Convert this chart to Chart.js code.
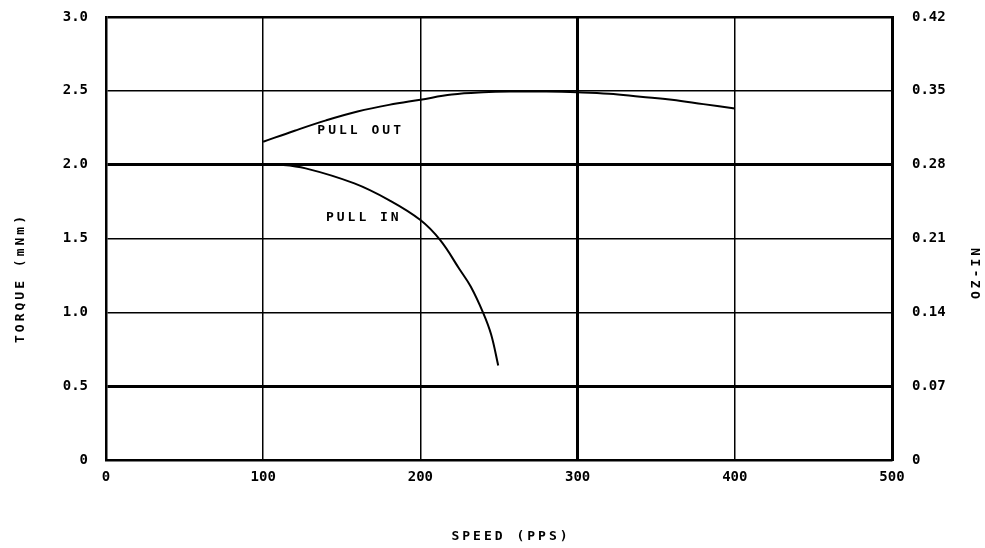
<!DOCTYPE html>
<html>
<head>
<meta charset="utf-8">
<script src="https://cdn.jsdelivr.net/npm/chart.js@4"></script>
<style>
  html, body { margin: 0; padding: 0; background: #fff; }
  #wrap { width: 985px; height: 548px; }
</style>
</head>
<body>
<div id="wrap"><canvas id="chart" width="985" height="548"></canvas></div>
<script>
// Pull-out curve (speed in PPS, torque in mNm)
const pullOutSpeed = [100, 120, 140, 160, 180, 200, 220, 240, 260, 280, 300, 320, 340, 360, 380, 400];
const pullOutTorque = [2.155, 2.23, 2.30, 2.36, 2.405, 2.44, 2.475, 2.49, 2.495, 2.495, 2.49, 2.48, 2.46, 2.44, 2.41, 2.38];

// Pull-in curve
const pullInSpeed = [100, 110, 127, 158, 180, 200, 212.5, 225, 232, 240, 245, 249.5];
const pullInTorque = [2.0, 2.0, 1.975, 1.873, 1.76, 1.625, 1.49, 1.29, 1.175, 0.995, 0.85, 0.64];

// Axis ticks
const speedTicks = [0, 100, 200, 300, 400, 500];
const torqueTicks = [0, 0.5, 1.0, 1.5, 2.0, 2.5, 3.0];
const ozInTicks = [0, 0.07, 0.14, 0.21, 0.28, 0.35, 0.42];
const ozInLabels = ['0', '0.07', '0.14', '0.21', '0.28', '0.35', '0.42'];

// Curve labels [text, speed, torque]
const curveLabels = [
    ['PULL OUT', 162, 2.23],
    ['PULL IN', 164, 1.64]
];

const MONO = '"DejaVu Sans Mono", "Liberation Mono", monospace';

function toPoints(xs, ys) {
    return xs.map((x, i) => ({ x: x, y: ys[i] }));
}

// no extra room above/below the vertical axes for their labels
function fitVertical(width) {
    return s => {
        s.width = width;
        s.paddingTop = 0;
        s.paddingBottom = 0;
    };
}

// draws axis titles and curve labels
const textPlugin = {
    id: 'texts',
    afterDraw(chart) {
        const ctx = chart.ctx;
        const x = chart.scales.x;
        const y = chart.scales.y;
        ctx.save();
        ctx.fillStyle = '#000';
        ctx.textAlign = 'center';
        ctx.textBaseline = 'middle';
        ctx.letterSpacing = '3px';
        ctx.font = 'bold 13px ' + MONO;
        ctx.fillText('SPEED (PPS)', 511, 537);

        ctx.save();
        ctx.translate(21, 278);
        ctx.rotate(-Math.PI / 2);
        ctx.fillText('TORQUE (mNm)', 0, 0);
        ctx.restore();

        ctx.save();
        ctx.translate(977, 272);
        ctx.rotate(-Math.PI / 2);
        ctx.fillText('OZ-IN', 0, 0);
        ctx.restore();

        ctx.font = 'bold 13px ' + MONO;
        curveLabels.forEach(l => {
            ctx.fillText(l[0], x.getPixelForValue(l[1]), y.getPixelForValue(l[2]));
        });
        ctx.restore();
    }
};

const ctx = document.getElementById('chart').getContext('2d');
new Chart(ctx, {
    type: 'line',
    data: {
        datasets: [
            {
                label: 'PULL OUT',
                data: toPoints(pullOutSpeed, pullOutTorque),
                borderColor: '#000',
                borderWidth: 2,
                pointRadius: 0,
                tension: 0.4,
                fill: false
            },
            {
                label: 'PULL IN',
                data: toPoints(pullInSpeed, pullInTorque),
                borderColor: '#000',
                borderWidth: 2,
                pointRadius: 0,
                tension: 0.4,
                fill: false
            }
        ]
    },
    options: {
        responsive: false,
        animation: false,
        layout: { padding: { top: 17 } },
        plugins: {
            legend: { display: false },
            tooltip: { enabled: false }
        },
        scales: {
            x: {
                type: 'linear',
                min: 0,
                max: 500,
                afterBuildTicks: s => { s.ticks = speedTicks.map(v => ({ value: v })); },
                afterFit: s => { s.height = 88; },
                border: { color: '#000', width: 2.5 },
                grid: {
                    color: '#000',
                    drawTicks: false,
                    lineWidth: c => (c.tick.value === 300 || c.tick.value === 500) ? 3 : 1.5
                },
                ticks: {
                    color: '#000',
                    padding: 9,
                    maxRotation: 0,
                    font: { family: MONO, size: 14, weight: 'bold' },
                    callback: v => String(v)
                }
            },
            y: {
                position: 'left',
                min: 0,
                max: 3,
                afterBuildTicks: s => { s.ticks = torqueTicks.map(v => ({ value: v })); },
                afterFit: fitVertical(106),
                border: { color: '#000', width: 2.5 },
                grid: {
                    color: '#000',
                    drawTicks: false,
                    lineWidth: c => [0.5, 2.0].includes(c.tick.value) ? 3 : (c.tick.value === 3 ? 2.5 : 1.5)
                },
                ticks: {
                    color: '#000',
                    padding: 18,
                    font: { family: MONO, size: 14, weight: 'bold' },
                    callback: v => v === 0 ? '0' : v.toFixed(1)
                }
            },
            y2: {
                position: 'right',
                min: 0,
                max: 0.42,
                afterBuildTicks: s => { s.ticks = ozInTicks.map(v => ({ value: v })); },
                afterFit: fitVertical(93),
                border: { color: '#000', width: 3 },
                grid: { display: false, drawOnChartArea: false },
                ticks: {
                    color: '#000',
                    padding: 12,
                    font: { family: MONO, size: 14, weight: 'bold' },
                    callback: (v, i) => ozInLabels[i]
                }
            }
        }
    },
    plugins: [textPlugin]
});
</script>
</body>
</html>
